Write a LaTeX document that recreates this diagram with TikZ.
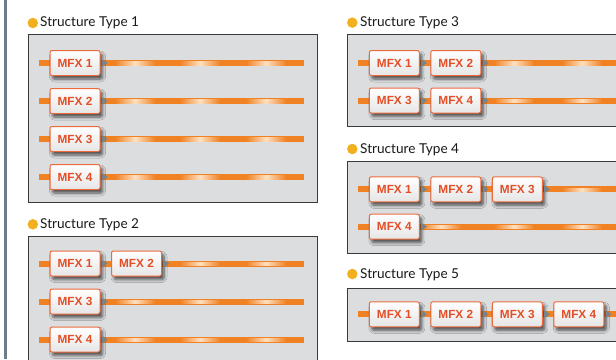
\documentclass[tikz,border=0pt]{standalone}
\usepackage{fontspec}
\setmainfont{Lato}
\newfontfamily\mfxfont{Liberation Sans}
\usetikzlibrary{calc,shadows.blur}
\definecolor{lineorange}{HTML}{F08224}
\definecolor{hlorange}{HTML}{FDE0C0}
\definecolor{mfxred}{HTML}{E44E26}
\definecolor{mfxborder}{HTML}{EC6A3C}
\definecolor{panelfill}{HTML}{DCDDDF}
\definecolor{panelborder}{HTML}{3A3A3A}
\definecolor{bulletc}{HTML}{F2B01E}
\definecolor{leftbar}{HTML}{6E7D8B}
\definecolor{arrowgray}{HTML}{76848F}
\tikzset{
  panel/.style={fill=panelfill,draw=panelborder,line width=0.9pt},
  signal/.style={draw=lineorange,line width=6pt},
  mfx/.style={draw=mfxborder,line width=1pt,rounded corners=2pt,
    top color=white,bottom color=black!10,
    minimum width=50pt,minimum height=25pt,inner sep=0pt,
    text=mfxred,font=\mfxfont\bfseries\fontsize{11.8}{13}\selectfont,
    blur shadow={shadow xshift=2.5pt,shadow yshift=-3.5pt,shadow blur steps=6,shadow opacity=65,shadow blur radius=3pt}},
  title/.style={anchor=base west,inner sep=0pt,font=\fontsize{13.6}{16}\selectfont,text=black!90},
  bullet/.style={circle,fill=bulletc,minimum size=10.5pt,inner sep=0pt},
  tip/.style={fill=arrowgray}
}
\newcommand{\mfxrow}[7]{%
  % #1 name, #2 y, #3 x start, #4 x end, #5 first centre x, #6 labels, #7 highlight x list
  \coordinate (#1s) at (#3,#2);
  \coordinate (#1e) at (#4,#2);
  \draw[signal] (#1s) -- (#1e);
  \foreach \h in {#7} {
    \shade[left color=lineorange,right color=lineorange,middle color=hlorange]
      (\h-20,#2-1.2) rectangle (\h+20,#2+2);
  }
  \foreach \n [count=\i] in {#6} {
    \node[mfx] (#1m\i) at ({#5+(\i-1)*61.5},#2) {MFX \n};
  }
  \foreach \n [count=\i] in {#6} {
    \path[tip] ($(#1m\i.east)+(1.2,-4)$) -- ++(6,4) -- ++(-6,4) -- cycle;
  }
}
\begin{document}
\begin{tikzpicture}[x=1pt,y=-1pt]
\useasboundingbox (0,0) rectangle (616,359);
\fill[white] (0,0) rectangle (616,359);
\fill[leftbar] (4,0) rectangle (6.5,359);
% Type 1
\node[bullet] (b1) at (32.8,23) {};
\node[title] (t1) at (40,26.8) {Structure Type 1};
\draw[panel] (28,34) rectangle (317,202);
\mfxrow{ta}{63}{39}{304}{75}{1}{135,200,266}
\mfxrow{tb}{101}{39}{304}{75}{2}{135,200,266}
\mfxrow{tc}{139}{39}{304}{75}{3}{135,200,266}
\mfxrow{td}{177}{39}{304}{75}{4}{135,200,266}
% Type 2
\node[bullet] (b2) at (32.8,224.3) {};
\node[title] (t2) at (40,228.2) {Structure Type 2};
\draw[panel] (28,236) rectangle (317,380);
\mfxrow{ua}{263.5}{39}{304}{75}{1,2}{200,266}
\mfxrow{ub}{301.5}{39}{304}{75}{3}{135,200,266}
\mfxrow{uc}{339.5}{39}{304}{75}{4}{135,200,266}
% Type 3
\node[bullet] (b3) at (352.3,22.6) {};
\node[title] (t3) at (360,26.8) {Structure Type 3};
\draw[panel] (347,34) rectangle (640,126.7);
\mfxrow{va}{63}{358}{640}{394.3}{1,2}{514,582}
\mfxrow{vb}{100.5}{358}{640}{394.3}{3,4}{514,582}
% Type 4
\node[bullet] (b4) at (352.3,149) {};
\node[title] (t4) at (360,153.2) {Structure Type 4};
\draw[panel] (347,161) rectangle (640,253);
\mfxrow{wa}{189.3}{358}{640}{394.3}{1,2,3}{582}
\mfxrow{wb}{226.7}{358}{640}{394.3}{4}{441,514,582}
% Type 5
\node[bullet] (b5) at (352.3,274) {};
\node[title] (t5) at (360,278.2) {Structure Type 5};
\draw[panel] (347,288) rectangle (640,341);
\mfxrow{xa}{314.3}{358}{640}{394.3}{1,2,3,4}{}
\end{tikzpicture}
\end{document}
